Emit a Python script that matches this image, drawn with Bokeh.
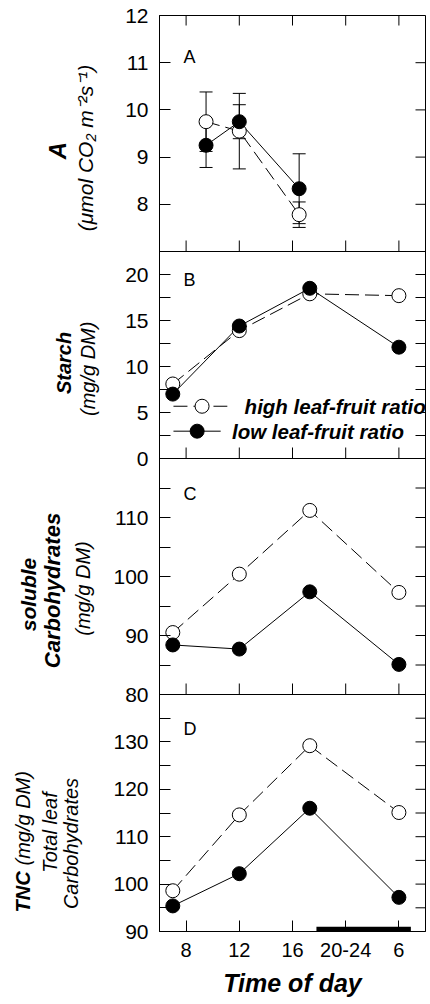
import numpy as np
from bokeh.plotting import figure
from bokeh.layouts import row
from bokeh.models import (Range1d, FixedTicker, Label, Whisker,
                          ColumnDataSource, TeeHead, Span)
from bokeh.core.properties import value
from bokeh.embed import file_html
from bokeh.resources import INLINE

# ---------------- data ----------------
time_A = [9.5, 12.0, 16.5]
A_high = [9.75, 9.55, 7.78]
A_high_err = [0.63, 0.80, 0.27]
A_low = [9.25, 9.75, 8.33]
A_low_err = [0.47, 0.36, 0.74]

time = [7.0, 12.0, 17.3, 24.0]
starch_high = [8.1, 13.9, 17.9, 17.7]
starch_low = [7.0, 14.4, 18.5, 12.1]
soluble_high = [90.5, 100.4, 111.2, 97.3]
soluble_low = [88.4, 87.7, 97.4, 85.1]
tnc_high = [98.6, 114.6, 129.2, 115.1]
tnc_low = [95.4, 102.2, 116.0, 97.2]

night_start, night_end = 17.8, 24.9

x_ticks = [8, 12, 16, 20, 24]
x_tick_labels = ["8", "12", "16", "20-24", "6"]

panel_names = ["A", "B", "C", "D"]
panel_lo = [7, 0, 80, 90]
panel_hi = [12, 22.5, 120, 140]
panel_major = [[8, 9, 10, 11, 12], [0, 5, 10, 15, 20], [80, 90, 100, 110], [90, 100, 110, 120, 130]]
panel_minor = [[], [2.5, 7.5, 12.5, 17.5], [85, 95, 105, 115], [95, 105, 115, 125, 135]]

# ---------------- layout ----------------
FONT = "Liberation Sans"
TOTAL_H = 1004
TITLE_W = 105
FRAME_W = 266
FRAME_H = 916
panel_px = [236, 207, 236, 237]          # A, B, C, D heights (top to bottom)
X_MIN, X_MAX = 6, 26

bands = {}
top = FRAME_H
for name, h in zip(panel_names, panel_px):
    bands[name] = (top - h, top)
    top -= h

p = figure(frame_width=FRAME_W, frame_height=FRAME_H,
           min_border_left=159 - TITLE_W, min_border_right=5, min_border_top=15, min_border_bottom=73,
           x_range=Range1d(X_MIN, X_MAX), y_range=Range1d(0, FRAME_H),
           output_backend="svg", toolbar_location=None)
p.xgrid.visible = False
p.ygrid.visible = False
p.outline_line_color = "black"
p.outline_line_alpha = 1.0
p.outline_line_width = 1
p.background_fill_color = "white"
p.border_fill_color = "white"

major_pos, minor_pos, overrides = [], [], {}
for name, lo, hi, maj, mnr in zip(panel_names, panel_lo, panel_hi, panel_major, panel_minor):
    b0, b1 = bands[name]
    s = (b1 - b0) / (hi - lo)
    start = lo - b0 / s
    p.extra_y_ranges[name] = Range1d(start, start + FRAME_H / s)
    for v in maj:
        pos = round(b0 + (v - lo) * s, 3)
        major_pos.append(pos)
        overrides[pos] = ("%g" % v)
    for v in mnr:
        minor_pos.append(round(b0 + (v - lo) * s, 3))


def style_axis(ax, tick_len=11):
    ax.axis_line_color = "black"
    ax.major_tick_line_color = "black"
    ax.minor_tick_line_color = "black"
    ax.major_tick_in = tick_len
    ax.major_tick_out = 0
    ax.minor_tick_in = tick_len
    ax.minor_tick_out = 0
    ax.major_label_text_font = FONT
    ax.major_label_text_color = "black"


# left axis
yax = p.yaxis[0]
yax.ticker = FixedTicker(ticks=major_pos, minor_ticks=minor_pos)
yax.major_label_overrides = overrides
style_axis(yax)
yax.major_label_text_font_size = "21px"
yax.major_label_standoff = 11

# bottom axis
xax = p.xaxis[0]
xax.ticker = FixedTicker(ticks=x_ticks, minor_ticks=[])
xax.major_label_overrides = dict(zip(x_ticks, x_tick_labels))
style_axis(xax)
xax.major_label_text_font_size = "20px"
xax.major_label_standoff = 11
xax.axis_label = "Time of day"
xax.axis_label_text_font = FONT
xax.axis_label_text_font_size = "25px"
xax.axis_label_text_font_style = "bold italic"
xax.axis_label_text_color = "black"
xax.axis_label_standoff = 9

# right-side ticks (mirror of the left ticks, pointing inwards)
rt_len = 10 * (X_MAX - X_MIN) / FRAME_W
all_y = major_pos + minor_pos
p.segment(x0=[X_MAX - rt_len] * len(all_y), y0=all_y, x1=[X_MAX] * len(all_y), y1=all_y,
          line_color="black", line_width=1)

# top ticks of panel A (pointing down)
p.segment(x0=x_ticks, y0=[FRAME_H] * len(x_ticks), x1=x_ticks, y1=[FRAME_H - 10] * len(x_ticks),
          line_color="black", line_width=1)

# panel separators and inner x ticks (pointing up)
for name in ["B", "C", "D"]:
    b_top = bands[name][1]
    p.add_layout(Span(location=b_top, dimension="width", line_color="black", line_width=1))
    p.segment(x0=x_ticks, y0=[b_top] * len(x_ticks), x1=x_ticks, y1=[b_top + 11] * len(x_ticks),
              line_color="black", line_width=1)

DASH = "14 6"
MS = 14

# ---------------- panel A ----------------
srcA_high = ColumnDataSource(dict(x=time_A, y=A_high,
                                  up=[v + e for v, e in zip(A_high, A_high_err)],
                                  lo=[v - e for v, e in zip(A_high, A_high_err)]))
srcA_low = ColumnDataSource(dict(x=time_A, y=A_low,
                                 up=[v + e for v, e in zip(A_low, A_low_err)],
                                 lo=[v - e for v, e in zip(A_low, A_low_err)]))
for src in (srcA_high, srcA_low):
    w = Whisker(source=src, base="x", upper="up", lower="lo", dimension="height",
                y_range_name="A", line_color="black", line_width=1,
                upper_head=TeeHead(size=13, line_color="black", line_width=1),
                lower_head=TeeHead(size=13, line_color="black", line_width=1))
    p.add_layout(w)

p.line("x", "y", source=srcA_high, y_range_name="A", line_color="black", line_width=1, line_dash=DASH)
p.line("x", "y", source=srcA_low, y_range_name="A", line_color="black", line_width=1)
p.scatter("x", "y", source=srcA_high, y_range_name="A", size=MS, fill_color="white", line_color="black", line_width=1)
p.scatter("x", "y", source=srcA_low, y_range_name="A", size=MS, fill_color="black", line_color="black", line_width=1)

# ---------------- panels B, C, D ----------------
for name, hi_vals, lo_vals in [("B", starch_high, starch_low),
                               ("C", soluble_high, soluble_low),
                               ("D", tnc_high, tnc_low)]:
    p.line(time, hi_vals, y_range_name=name, line_color="black", line_width=1, line_dash=DASH)
    p.line(time, lo_vals, y_range_name=name, line_color="black", line_width=1)
    p.scatter(time, hi_vals, y_range_name=name, size=MS, fill_color="white", line_color="black", line_width=1)
    p.scatter(time, lo_vals, y_range_name=name, size=MS, fill_color="black", line_color="black", line_width=1)

# night bar
p.segment(x0=[night_start], y0=[90.5], x1=[night_end], y1=[90.5], y_range_name="D",
          line_color="black", line_width=5, line_cap="butt")

# ---------------- panel letters ----------------
for name, yv in zip(panel_names, [11.13, 19.35, 114.0, 132.8]):
    p.add_layout(Label(x=7.8, y=yv, y_range_name=name, text=name, text_font=FONT,
                       text_font_size="18px", text_baseline="middle", text_align="left",
                       text_color="black"))

# ---------------- legend (panel B) ----------------
p.line([7.05, 11.1], [5.68, 5.68], y_range_name="B", line_color="black", line_width=1, line_dash=DASH)
p.scatter([9.2], [5.68], y_range_name="B", size=MS, fill_color="white", line_color="black", line_width=1)
p.line([7.05, 10.6], [2.97, 2.97], y_range_name="B", line_color="black", line_width=1)
p.scatter([8.83], [2.97], y_range_name="B", size=MS, fill_color="black", line_color="black", line_width=1)
p.add_layout(Label(x=12.4, y=5.68, y_range_name="B", text="high leaf-fruit ratio", text_font=FONT,
                   text_font_size="20.5px", text_font_style="bold italic", text_baseline="middle",
                   text_color="black"))
p.add_layout(Label(x=11.45, y=2.97, y_range_name="B", text="low leaf-fruit ratio", text_font=FONT,
                   text_font_size="20.5px", text_font_style="bold italic", text_baseline="middle",
                   text_color="black"))

# ---------------- y titles (separate narrow figure on the left) ----------------
t = figure(frame_width=TITLE_W, frame_height=TOTAL_H, min_border=0,
           x_range=Range1d(0, TITLE_W), y_range=Range1d(0, TOTAL_H),
           x_axis_location=None, y_axis_location=None,
           output_backend="svg", toolbar_location=None)
t.xgrid.visible = False
t.ygrid.visible = False
t.outline_line_color = None
t.background_fill_color = "white"
t.border_fill_color = "white"

titles = [
    # text, x (px from left), y (px from bottom), size, style, align
    ("A", 57, 869, "24px", "bold italic", "center"),
    ("(\u03bcmol CO\u2082 m\u207b\u00b2s\u207b\u00b9)", 85, 871.5, "21px", "italic", "center"),
    ("Starch", 63, 656.5, "20px", "bold italic", "center"),
    ("(mg/g DM)", 87, 650.7, "20px", "italic", "center"),
    ("soluble", 27.5, 425, "21px", "bold italic", "center"),
    ("Carbohydrates", 51.7, 429, "22px", "bold italic", "center"),
    ("(mg/g DM)", 82, 431, "20px", "italic", "center"),
    ("TNC", 22.5, 107, "20px", "bold italic", "left"),
    ("(mg/g DM)", 22.5, 154, "20px", "italic", "left"),
    ("Total leaf", 49, 187, "20px", "italic", "center"),
    ("Carbohydrates", 70.5, 176, "20px", "italic", "center"),
]
for txt, xv, yv, fs, st, al in titles:
    t.text(x=[xv], y=[yv], text=[txt], angle=np.pi / 2, text_font=value(FONT),
           text_font_size=value(fs), text_font_style=st, text_align=al,
           text_baseline="middle", text_color="black")

layout = row(t, p, spacing=0)
open("out.html", "w").write(file_html(layout, INLINE))
